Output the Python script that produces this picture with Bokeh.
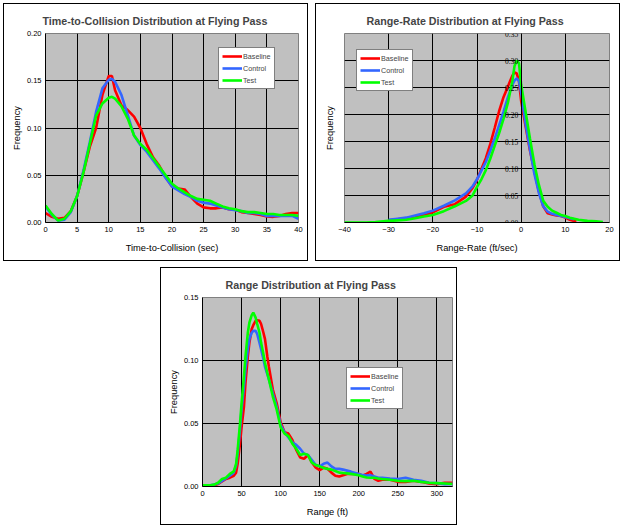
from bokeh.plotting import figure
from bokeh.models import (NumeralTickFormatter, Legend, LegendItem, LinearAxis,
                          FixedTicker, Range1d, LabelSet, ColumnDataSource)
from bokeh.layouts import column, row
from bokeh.embed import file_html
from bokeh.resources import INLINE

# ---------------- data ----------------
series_names = ["Baseline", "Control", "Test"]
series_colors = ["#FF0000", "#3366FF", "#00FF00"]

# Time-to-Collision
tc_x = [0, 1, 2, 3, 4, 5, 6, 7, 8, 9, 10, 10.5, 11, 12, 13, 14, 15, 16, 17, 18, 19, 20,
        21, 22, 23, 24, 25, 26, 27, 28, 29, 30, 31, 32, 33, 34, 35, 36, 37, 38, 39, 40]
tc_baseline = [0.010, 0.006, 0.004, 0.005, 0.012, 0.028, 0.053, 0.080, 0.100, 0.135, 0.155,
               0.155, 0.140, 0.124, 0.119, 0.112, 0.100, 0.083, 0.069, 0.060, 0.048, 0.038,
               0.036, 0.035, 0.027, 0.020, 0.016, 0.015, 0.015, 0.016, 0.014, 0.0135,
               0.011, 0.010, 0.009, 0.008, 0.0065, 0.006, 0.007, 0.009, 0.010, 0.010]
tc_control = [0.017, 0.008, 0.002, 0.003, 0.011, 0.028, 0.055, 0.085, 0.117, 0.142, 0.151,
              0.152, 0.149, 0.135, 0.114, 0.092, 0.082, 0.075, 0.066, 0.057, 0.047, 0.038,
              0.034, 0.030, 0.027, 0.023, 0.021, 0.020, 0.018, 0.016, 0.014, 0.013,
              0.012, 0.010, 0.010, 0.009, 0.007, 0.007, 0.007, 0.007, 0.007, 0.004]
tc_test = [0.018, 0.009, 0.002, 0.004, 0.012, 0.028, 0.053, 0.083, 0.113, 0.126, 0.132,
           0.133, 0.131, 0.123, 0.110, 0.092, 0.083, 0.077, 0.068, 0.059, 0.050, 0.041,
           0.036, 0.032, 0.028, 0.025, 0.024, 0.023, 0.020, 0.017, 0.015, 0.014,
           0.012, 0.011, 0.011, 0.010, 0.009, 0.009, 0.008, 0.008, 0.008, 0.007]

# Range-Rate
rr_baseline_x = [-30, -28, -26, -24, -22, -20, -17.5, -15, -12.5, -11, -10, -9, -8, -7, -6,
                 -5, -4, -3, -2.5, -2, -1.5, -1, -0.5, 0, 1, 2, 3, 4, 5, 6, 7, 8, 9, 10,
                 11, 12, 12.5]
rr_baseline = [0.004, 0.006, 0.008, 0.011, 0.014, 0.019, 0.029, 0.034, 0.048, 0.064, 0.079,
               0.099, 0.119, 0.145, 0.175, 0.206, 0.232, 0.252, 0.262, 0.272, 0.278, 0.276,
               0.262, 0.225, 0.178, 0.133, 0.095, 0.058, 0.030, 0.017, 0.015, 0.013, 0.012,
               0.009, 0.005, 0.003, 0.002]
rr_control_x = [-30, -28, -26, -24, -22, -20, -17.5, -15, -12.5, -11, -10, -9, -8, -7, -6,
                -5, -4, -3, -2, -1.5, -1, -0.5, 0, 1, 2, 3, 4, 5, 6, 7, 8, 9, 10, 11, 12]
rr_control = [0.005, 0.007, 0.009, 0.013, 0.017, 0.022, 0.031, 0.041, 0.054, 0.067, 0.080,
              0.096, 0.112, 0.133, 0.155, 0.180, 0.205, 0.232, 0.255, 0.263, 0.267, 0.262,
              0.240, 0.183, 0.135, 0.090, 0.055, 0.030, 0.020, 0.016, 0.014, 0.012, 0.010,
              0.008, 0.006]
rr_test_x = [-40, -35, -33, -30, -28, -26, -24, -22, -20, -17.5, -15, -12.5, -11, -10, -9,
             -8, -7, -6, -5, -4, -3, -2, -1.5, -1, -0.5, 0, 1, 2, 3, 4, 5, 6, 7, 8, 9, 10,
             11, 12, 13, 14, 15, 16, 17, 18.5]
rr_test = [0.000, 0.000, 0.001, 0.003, 0.004, 0.005, 0.008, 0.011, 0.014, 0.021, 0.030,
           0.040, 0.050, 0.066, 0.080, 0.097, 0.118, 0.142, 0.165, 0.192, 0.222, 0.262,
           0.290, 0.300, 0.295, 0.255, 0.205, 0.155, 0.108, 0.070, 0.040, 0.029, 0.022,
           0.018, 0.014, 0.012, 0.009, 0.007, 0.005, 0.004, 0.003, 0.0025, 0.002, 0.001]

# Range
rg_x = [0, 5, 10, 15, 20, 25, 30, 35, 40, 43, 45, 48, 50, 53, 55, 58, 60, 63, 65, 68, 70,
        73, 75, 78, 80, 83, 85, 90, 95, 100, 105, 110, 115, 120, 125, 130, 135, 140, 145,
        150, 155, 160, 165, 170, 175, 180, 185, 190, 200, 205, 210, 215, 220, 225, 230,
        240, 250, 260, 270, 280, 290, 300, 310, 320]
rg_baseline = [0.001, 0.001, 0.001, 0.001, 0.002, 0.004, 0.006, 0.007, 0.0085, 0.011, 0.018,
               0.034, 0.047, 0.063, 0.082, 0.103, 0.114, 0.125, 0.128, 0.1315, 0.132, 0.1315,
               0.129, 0.122, 0.117, 0.103, 0.095, 0.077, 0.066, 0.051, 0.043, 0.042, 0.037,
               0.029, 0.023, 0.022, 0.025, 0.019, 0.015, 0.013, 0.015, 0.014, 0.011, 0.0086,
               0.008, 0.009, 0.010, 0.010, 0.010, 0.0086, 0.010, 0.0118, 0.006, 0.0045,
               0.0053, 0.0053, 0.0037, 0.0037, 0.0045, 0.0037, 0.0024, 0.0019, 0.003, 0.003]
rg_control = [0.001, 0.001, 0.001, 0.0015, 0.0024, 0.0045, 0.0064, 0.0085, 0.011, 0.0166,
              0.026, 0.045, 0.061, 0.079, 0.093, 0.109, 0.117, 0.122, 0.1235, 0.1235, 0.121,
              0.114, 0.109, 0.101, 0.095, 0.089, 0.085, 0.074, 0.063, 0.049, 0.043, 0.039,
              0.035, 0.033, 0.030, 0.026, 0.025, 0.021, 0.017, 0.016, 0.018, 0.019, 0.016,
              0.014, 0.014, 0.0134, 0.0126, 0.0118, 0.010, 0.009, 0.0086, 0.009, 0.008,
              0.007, 0.007, 0.0064, 0.006, 0.007, 0.0053, 0.0045, 0.003, 0.0027, 0.0019,
              0.002]
rg_test = [0.001, 0.001, 0.001, 0.0015, 0.003, 0.006, 0.007, 0.010, 0.012, 0.018, 0.029,
           0.050, 0.066, 0.087, 0.103, 0.122, 0.130, 0.136, 0.138, 0.134, 0.129, 0.122,
           0.114, 0.105, 0.098, 0.090, 0.085, 0.0714, 0.061, 0.047, 0.042, 0.040, 0.034,
           0.030, 0.025, 0.026, 0.025, 0.019, 0.017, 0.016, 0.0147, 0.014, 0.0134, 0.0123,
           0.011, 0.0107, 0.0104, 0.010, 0.009, 0.008, 0.0072, 0.007, 0.007, 0.0064, 0.006,
           0.0053, 0.0045, 0.0043, 0.0045, 0.0037, 0.003, 0.0027, 0.0024, 0.002]

tc_xticks = [0, 5, 10, 15, 20, 25, 30, 35, 40]
tc_yticks = [0.0, 0.05, 0.10, 0.15, 0.20]
rr_xticks = [-40, -30, -20, -10, 0, 10, 20]
rr_yticks = [0.0, 0.05, 0.10, 0.15, 0.20, 0.25, 0.30, 0.35]
rg_xticks = [0, 50, 100, 150, 200, 250, 300]
rg_yticks = [0.0, 0.05, 0.10, 0.15]

FONT = "Liberation Sans"


def style_axis(ax):
    ax.major_label_text_font = FONT
    ax.major_label_text_font_size = "7.5px"
    ax.major_label_text_color = "black"
    ax.axis_label_text_font = FONT
    ax.axis_label_text_font_size = "9.3px"
    ax.axis_label_text_font_style = "normal"
    ax.axis_label_text_color = "black"
    ax.major_tick_out = 0
    ax.major_tick_in = 0
    ax.minor_tick_out = 0
    ax.minor_tick_in = 0
    ax.axis_line_color = "black"
    ax.major_label_standoff = 4


def make_fig(title, title_offset, xlabel, xr, yr, xticks, yticks, width, bl, br,
             series, legend_loc, center_axis=False):
    p = figure(width=width, height=256, x_range=Range1d(*xr), y_range=Range1d(*yr),
               output_backend="svg", toolbar_location=None,
               min_border_left=bl, min_border_right=br,
               min_border_top=29, min_border_bottom=40)
    p.styles = {"border": "1px solid black", "box-sizing": "content-box"}
    p.background_fill_color = "#C0C0C0"
    p.border_fill_color = "white"
    p.outline_line_color = "#808080"

    p.title.text = title
    p.title.text_font = FONT
    p.title.text_font_size = "10.7px"
    p.title.text_font_style = "bold"
    p.title.align = "left"
    p.title.offset = title_offset
    p.title.standoff = 14

    style_axis(p.xaxis[0])
    style_axis(p.yaxis[0])
    p.xaxis.axis_label_standoff = 8
    p.yaxis.axis_label_standoff = 2

    p.xaxis.ticker = FixedTicker(ticks=xticks)
    p.xgrid.ticker = FixedTicker(ticks=xticks)
    p.ygrid.ticker = FixedTicker(ticks=yticks)
    p.xaxis.axis_label = xlabel
    p.yaxis.formatter = NumeralTickFormatter(format="0.00")
    p.xgrid.grid_line_color = "black"
    p.ygrid.grid_line_color = "black"
    p.xgrid.grid_line_width = 1
    p.ygrid.grid_line_width = 1

    if center_axis:
        # y axis crossing at x = 0; its labels sit just left of that line
        p.yaxis.fixed_location = 0
        p.yaxis.ticker = FixedTicker(ticks=[])
        src = ColumnDataSource(dict(x=[0] * len(yticks), y=yticks,
                                    t=["%.2f" % v for v in yticks]))
        p.add_layout(LabelSet(x="x", y="y", text="t", source=src, x_offset=-3,
                              text_align="right", text_baseline="middle",
                              text_font=FONT, text_font_size="7.5px",
                              text_color="black"))
        # axis title kept at the left edge of the plot area
        side = LinearAxis(ticker=FixedTicker(ticks=[]), axis_label="Frequency")
        style_axis(side)
        side.axis_line_color = None
        side.major_label_standoff = 0
        side.axis_label_standoff = 10
        p.add_layout(side, "left")
    else:
        p.yaxis.ticker = FixedTicker(ticks=yticks)
        p.yaxis.axis_label = "Frequency"

    items = []
    for name, color, (xs, ys) in zip(series_names, series_colors, series):
        r = p.line(xs, ys, line_color=color, line_width=2.6)
        items.append(LegendItem(label=name, renderers=[r]))

    legend = Legend(items=items, location=legend_loc,
                    border_line_color="black", border_line_width=1,
                    background_fill_color="white", background_fill_alpha=1,
                    label_text_font=FONT, label_text_font_size="7.2px",
                    glyph_width=20, glyph_height=10, label_height=10,
                    spacing=2, padding=3, margin=0, label_standoff=1)
    p.add_layout(legend, "center")
    return p


p1 = make_fig("Time-to-Collision Distribution at Flying Pass", -3,
              "Time-to-Collision (sec)", (0, 40), (0, 0.20), tc_xticks, tc_yticks,
              303, 41, 11,
              [(tc_x, tc_baseline), (tc_x, tc_control), (tc_x, tc_test)],
              (173, 133))
p2 = make_fig("Range-Rate Distribution at Flying Pass", 22,
              "Range-Rate (ft/sec)", (-40, 20), (0, 0.35), rr_xticks, rr_yticks,
              303, 28, 12,
              [(rr_baseline_x, rr_baseline), (rr_control_x, rr_control),
               (rr_test_x, rr_test)],
              (12, 131), center_axis=True)
p3 = make_fig("Range Distribution at Flying Pass", 23,
              "Range (ft)", (0, 320), (0, 0.15), rg_xticks, rg_yticks,
              295, 41, 6,
              [(rg_x, rg_baseline), (rg_x, rg_control), (rg_x, rg_test)],
              (144, 77))
p3.margin = (0, 0, 0, 157)

layout = column(row(p1, p2, spacing=7), p3, spacing=6, margin=(3, 0, 0, 3))

open("out.html", "w").write(file_html(layout, INLINE))
